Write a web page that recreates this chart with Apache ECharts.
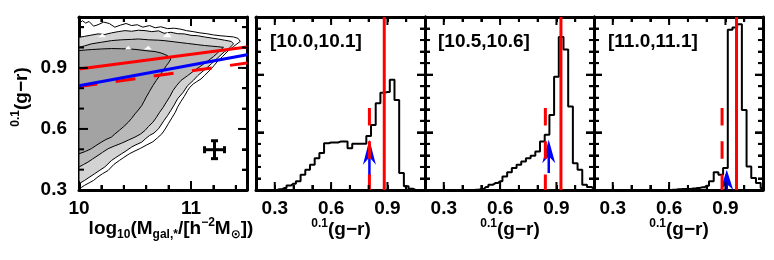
<!DOCTYPE html>
<html>
<head>
<meta charset="utf-8">
<script src="https://cdn.jsdelivr.net/npm/echarts@6.0.0/dist/echarts.min.js"></script>
<style>
html,body{margin:0;padding:0;background:#ffffff;}
#chart{width:774px;height:260px;}
</style>
</head>
<body>
<div id="chart"></div>
<script>
// ================= DATA: left panel (colour vs stellar mass) =================
const massTickValues = [10, 11];
const massMinorTicks = [10.2, 10.4, 10.6, 10.8, 11.2, 11.4];
const colourTickValues = [0.3, 0.6, 0.9];
const colourMinorTicks = [0.4, 0.5, 0.7, 0.8, 1.0, 1.1];

const outerContourX = [10.00,10.03,10.06,10.09,10.13,10.17,10.22,10.27,10.32,10.37,10.42,10.47,10.52,10.57,10.63,10.68,10.73,10.79,10.85,10.91,10.96,11.02,11.08,11.14,11.20,11.26,11.32,11.38,11.42,11.44,11.42,11.38,11.33,11.28,11.24,11.18,11.12,11.09,11.05,11.02,10.99,10.97,10.94,10.91,10.88,10.86,10.83,10.80,10.77,10.74,10.70,10.66,10.60,10.55,10.50,10.45,10.40,10.36,10.31,10.26,10.21,10.17,10.13,10.09,10.05,10.02,10.00];
const outerContourY = [1.116,1.132,1.120,1.128,1.105,1.112,1.125,1.118,1.100,1.110,1.118,1.108,1.112,1.100,1.108,1.097,1.102,1.093,1.095,1.090,1.083,1.078,1.072,1.068,1.062,1.058,1.055,1.052,1.045,1.030,1.022,1.005,0.983,0.955,0.934,0.895,0.862,0.846,0.832,0.821,0.805,0.789,0.760,0.735,0.707,0.682,0.655,0.628,0.600,0.576,0.556,0.537,0.520,0.505,0.492,0.478,0.460,0.445,0.425,0.396,0.380,0.365,0.347,0.335,0.323,0.312,0.305];

const lightRegionX = [10.00,10.05,10.10,10.17,10.23,10.29,10.35,10.41,10.47,10.53,10.59,10.65,10.71,10.76,10.82,10.88,10.94,11.00,11.06,11.12,11.18,11.24,11.30,11.36,11.38,11.33,11.30,11.24,11.18,11.12,11.06,11.02,10.97,10.93,10.88,10.85,10.82,10.79,10.76,10.71,10.67,10.63,10.59,10.56,10.50,10.47,10.42,10.38,10.33,10.29,10.23,10.18,10.14,10.09,10.05,10.00];
const lightRegionY = [1.050,1.055,1.060,1.067,1.064,1.072,1.078,1.083,1.080,1.085,1.083,1.078,1.082,1.070,1.075,1.068,1.067,1.060,1.058,1.052,1.047,1.042,1.036,1.030,1.018,0.990,0.980,0.950,0.919,0.890,0.862,0.838,0.813,0.780,0.748,0.718,0.691,0.665,0.642,0.601,0.580,0.568,0.550,0.535,0.520,0.511,0.492,0.478,0.460,0.445,0.413,0.395,0.380,0.362,0.347,0.331];

const midRegionX = [10.00,10.05,10.11,10.20,10.29,10.38,10.47,10.53,10.62,10.71,10.76,10.85,10.91,10.97,11.06,11.12,11.18,11.24,11.29,11.26,11.24,11.20,11.15,11.09,11.03,10.97,10.91,10.87,10.84,10.81,10.78,10.75,10.72,10.69,10.66,10.62,10.59,10.55,10.50,10.44,10.38,10.32,10.26,10.21,10.17,10.12,10.08,10.04,10.00];
const midRegionY = [1.001,1.008,1.018,1.026,1.034,1.038,1.040,1.042,1.038,1.036,1.034,1.028,1.024,1.020,1.014,1.010,1.007,1.004,1.001,0.985,0.975,0.955,0.934,0.910,0.887,0.862,0.838,0.812,0.789,0.758,0.732,0.705,0.682,0.656,0.633,0.612,0.593,0.575,0.560,0.545,0.530,0.517,0.503,0.485,0.470,0.452,0.437,0.425,0.413];

const darkRegionX = [10.00,10.06,10.11,10.20,10.29,10.38,10.44,10.50,10.59,10.68,10.74,10.79,10.82,10.80,10.78,10.75,10.72,10.69,10.66,10.63,10.60,10.58,10.56,10.53,10.50,10.47,10.44,10.40,10.36,10.32,10.29,10.24,10.20,10.15,10.11,10.06,10.00];
const darkRegionY = [0.985,0.988,0.990,0.993,0.995,0.994,0.993,0.991,0.985,0.980,0.972,0.960,0.944,0.925,0.911,0.885,0.862,0.838,0.813,0.785,0.756,0.735,0.715,0.693,0.674,0.652,0.633,0.612,0.593,0.575,0.560,0.548,0.535,0.518,0.503,0.490,0.478];

const notchX = [[10.75,10.83,10.79],[10.17,10.24,10.21],[10.41,10.47,10.44],[10.58,10.65,10.62]];
const notchY = [[1.050,1.050,1.075],[1.050,1.050,1.070],[0.990,0.990,1.009],[0.990,0.990,1.009]];

const redFitX = [10.0, 11.5];
const redFitY = [0.894, 1.003];
const blueFitX = [10.0, 11.5];
const blueFitY = [0.812, 0.965];
const redDashFitX = [10.0, 11.5];
const redDashFitY = [0.808, 0.924];

const errCentreX = [11.21];
const errCentreY = [0.498];
const errHalfX = [0.089];
const errHalfY = [0.044];

// ================= DATA: colour histograms =================
const binCentres = [0.200,0.225,0.250,0.275,0.300,0.325,0.350,0.375,0.400,0.425,0.450,0.475,0.500,0.525,0.550,0.575,0.600,0.625,0.650,0.675,0.700,0.725,0.750,0.775,0.800,0.825,0.850,0.875,0.900,0.925,0.950,0.975,1.000,1.025,1.050,1.075,1.100];
const histA = [0,0,0,0,0, 0.06,0.17,0.40,0.55,0.75, 1.32,1.76,2.19,2.76,3.20, 4.06,4.12,4.12,4.20,4.20, 3.63,4.00,4.00,4.00,4.69, 5.64,7.52,8.44,8.50,9.55, 7.80,1.47,0.32,0.10,0, 0,0];
const histB = [0,0,0,0,0, 0,0,0,0,0, 0,0.03,0.09,0.26,0.46, 0.60,0.75,1.18,1.53,1.90, 2.19,2.48,2.76,2.97,3.34, 4.20,4.78,6.50,9.82,13.27, 12.18,7.23,2.33,1.76,0.46, 0.26,0.10];
const histC = [0,0,0,0,0, 0,0,0,0,0, 0,0,0,0,0, 0,0,0.03,0.06,0.09, 0.09,0.12,0.17,0.23,0.37, 0.75,1.53,1.32,1.90,13.90, 14.10,14.37,6.94,2.04,1.04, 0.60,0.17];
const histograms = [histA, histB, histC];
const massBinLabels = ['[10.0,10.1]', '[10.5,10.6]', '[11.0,11.1]'];

const histTickValues = [0.3, 0.6, 0.9];
const histMinorTicks = [0.2, 0.4, 0.5, 0.7, 0.8, 1.0, 1.1];
const countMajorTicks = [5, 10];
const countMinorTicks = [1, 2, 3, 4, 6, 7, 8, 9, 11, 12, 13, 14];

const redSolidX = [0.883, 0.924, 0.959];
const redDashX = [0.804, 0.841, 0.882];
const redDashTop = [7.1, 7.1, 7.1];
const arrowX = [0.804, 0.859, 0.907];
const arrowTip = [4.35, 4.35, 1.76];
const arrowBase = [2.19, 2.33, 0.0];
const arrowTail = [1.18, 1.47, 0.0];

// ================= CHART =================
const FONT = "'Liberation Sans', Arial, 'DejaVu Sans', sans-serif";
const chart = echarts.init(document.getElementById('chart'));

const grids = [
  {left: 79, top: 17, width: 168, height: 173},
  {left: 256, top: 17, width: 169, height: 173},
  {left: 425, top: 17, width: 169, height: 173},
  {left: 594, top: 17, width: 169, height: 173}
];

// axis ranges and tick intervals (min is always a multiple of interval)
const axisSpecs = [
  {x: {min: 10, max: 11.5, interval: 0.2, len: 5, minor: 0},
   y: {min: 0.3, max: 1.15, interval: 0.1, len: 5, minor: 0}},
  {x: {min: 0.2, max: 1.1, interval: 0.1, len: 5, minor: 0},
   y: {min: 0, max: 15, interval: 5, len: 8, minor: 5}},
  {x: {min: 0.2, max: 1.1, interval: 0.1, len: 5, minor: 0},
   y: {min: 0, max: 15, interval: 5, len: 8, minor: 5}},
  {x: {min: 0.2, max: 1.1, interval: 0.1, len: 5, minor: 0},
   y: {min: 0, max: 15, interval: 5, len: 8, minor: 5}}
];

const xAxes = [], yAxes = [];
function addAxis(list, gi, pos, spec, labelVals, fmt, margin) {
  list.push({
    type: 'value', gridIndex: gi, position: pos, min: spec.min, max: spec.max, interval: spec.interval,
    axisLine: {show: true, onZero: false, lineStyle: {color: '#000', width: 3}},
    axisTick: {show: true, inside: true, length: spec.len, lineStyle: {color: '#000', width: 2}},
    minorTick: spec.minor ? {show: true, splitNumber: spec.minor, length: 5, lineStyle: {color: '#000', width: 2}} : {show: false},
    axisLabel: labelVals ? {show: true, customValues: labelVals, formatter: fmt, margin: margin,
      color: '#000', fontFamily: FONT, fontWeight: 'bold', fontSize: 19} : {show: false},
    splitLine: {show: false}
  });
  return list.length - 1;
}

const mainX = [], mainY = [];
mainX.push(addAxis(xAxes, 0, 'bottom', axisSpecs[0].x, massTickValues, v => v.toFixed(0), 9));
addAxis(xAxes, 0, 'top', axisSpecs[0].x);
mainY.push(addAxis(yAxes, 0, 'left', axisSpecs[0].y, colourTickValues, v => v.toFixed(1), 12));
addAxis(yAxes, 0, 'right', axisSpecs[0].y);
for (let g = 1; g <= 3; g++) {
  mainX.push(addAxis(xAxes, g, 'bottom', axisSpecs[g].x, histTickValues, v => v.toFixed(1), 9));
  addAxis(xAxes, g, 'top', axisSpecs[g].x);
  mainY.push(addAxis(yAxes, g, 'left', axisSpecs[g].y));
  addAxis(yAxes, g, 'right', axisSpecs[g].y);
}

function pairs(xs, ys) { return xs.map((x, i) => [x, ys[i]]); }

function polygonSeries(xs, ys, fill, stroke) {
  const data = pairs(xs, ys);
  return {
    type: 'custom', xAxisIndex: mainX[0], yAxisIndex: mainY[0], data: data, silent: true,
    renderItem: function (params, api) {
      if (params.dataIndex !== 0) return null;
      return {type: 'polygon', shape: {points: data.map(d => api.coord(d))},
        style: {fill: fill, stroke: stroke, lineWidth: 1}};
    }
  };
}

function lineSeries(xs, ys, color, width, type, gi, extra) {
  return Object.assign({
    type: 'line', xAxisIndex: mainX[gi], yAxisIndex: mainY[gi], data: pairs(xs, ys),
    showSymbol: false, symbol: 'none', silent: true, clip: true,
    lineStyle: {color: color, width: width, type: type || 'solid'}
  }, extra || {});
}

const series = [];
// left panel
series.push(polygonSeries(lightRegionX, lightRegionY, '#d3d3d3', '#000'));
series.push(polygonSeries(midRegionX, midRegionY, '#b9b9b9', '#000'));
series.push(polygonSeries(darkRegionX, darkRegionY, '#a3a3a3', '#000'));
notchX.forEach((nx, i) => series.push(polygonSeries(nx, notchY[i], '#ffffff', null)));
series.push(lineSeries(outerContourX, outerContourY, '#000', 1, 'solid', 0));
series.push(lineSeries(redFitX, redFitY, '#ff0000', 3, 'solid', 0));
const dashFit = lineSeries(redDashFitX, redDashFitY, '#ff0000', 3, [20, 18.5], 0);
dashFit.lineStyle.dashOffset = 1.5;
series.push(dashFit);
series.push(lineSeries(blueFitX, blueFitY, '#0000ff', 3, 'solid', 0));
series.push({
  type: 'custom', xAxisIndex: mainX[0], yAxisIndex: mainY[0], silent: true,
  data: errCentreX.map((x, i) => [x, errCentreY[i], errHalfX[i], errHalfY[i]]),
  renderItem: function (params, api) {
    const x = api.value(0), y = api.value(1), dx = api.value(2), dy = api.value(3);
    const l = api.coord([x - dx, y]), r = api.coord([x + dx, y]);
    const t = api.coord([x, y + dy]), b = api.coord([x, y - dy]);
    const cap = 3.5, st = {stroke: '#000', lineWidth: 3};
    const L = (x1, y1, x2, y2) => ({type: 'line', shape: {x1, y1, x2, y2}, style: st});
    return {type: 'group', children: [
      L(l[0], l[1], r[0], r[1]), L(t[0], t[1], b[0], b[1]),
      L(l[0], l[1] - cap, l[0], l[1] + cap), L(r[0], r[1] - cap, r[0], r[1] + cap),
      L(t[0] - cap, t[1], t[0] + cap, t[1]), L(b[0] - cap, b[1], b[0] + cap, b[1])
    ]};
  }
});

// histogram panels
for (let k = 0; k < 3; k++) {
  const g = k + 1;
  series.push(lineSeries(binCentres, histograms[k], '#000', 2, 'solid', g, {step: 'middle'}));
  series.push(lineSeries([redSolidX[k], redSolidX[k]], [0, 15], '#ff0000', 3, 'solid', g));
  const dashS = lineSeries([redDashX[k], redDashX[k]], [0, redDashTop[k]], '#ff0000', 3, [17.5, 15.7], g);
  dashS.lineStyle.dashOffset = 2;
  series.push(dashS);
  series.push({
    type: 'custom', xAxisIndex: mainX[g], yAxisIndex: mainY[g], silent: true,
    data: [[arrowX[k], arrowTip[k], arrowBase[k], arrowTail[k]]],
    renderItem: function (params, api) {
      const x = api.value(0);
      const pTip = api.coord([x, api.value(1)]);
      const pBase = api.coord([x, api.value(2)]);
      const pTail = api.coord([x, api.value(3)]);
      const hw = 6.5;
      const notchY = pBase[1] - 0.3 * (pBase[1] - pTip[1]);
      const children = [];
      if (pTail[1] > notchY) {
        children.push({type: 'line', shape: {x1: pTail[0], y1: pTail[1], x2: pTail[0], y2: notchY},
          style: {stroke: '#0000ff', lineWidth: 2.5}});
      }
      children.push({type: 'polygon', shape: {points: [pTip, [pTip[0] + hw, pBase[1]], [pTip[0], notchY], [pTip[0] - hw, pBase[1]]]},
        style: {fill: '#0000ff'}});
      return {type: 'group', children: children};
    }
  });
}

chart.setOption({
  animation: false,
  grid: grids,
  xAxis: xAxes,
  yAxis: yAxes,
  series: series
});

// ---------- texts and inward tick marks (tick positions via the axes' own scales) ----------
const rich = {
  m: {fontFamily: FONT, fontWeight: 'bold', fontSize: 19, lineHeight: 24, verticalAlign: 'middle', color: '#000'},
  p: {fontFamily: FONT, fontWeight: 'bold', fontSize: 12, lineHeight: 12, verticalAlign: 'top', color: '#000'},
  s: {fontFamily: FONT, fontWeight: 'bold', fontSize: 12, lineHeight: 12, verticalAlign: 'bottom', color: '#000'}
};
const graphic = [
  {type: 'text', x: 22, y: 97, rotation: Math.PI / 2, silent: true,
    style: {text: '{p|0.1}{m|(g−r)}', rich: rich, align: 'center', verticalAlign: 'middle'}},
  {type: 'text', x: 171, y: 229, silent: true,
    style: {text: '{m|log}{s|10}{m|(M}{s|gal,*}{m|/[h}{p|−2}{m|M}{s|⊙}{m|])}', rich: rich, align: 'center', verticalAlign: 'middle'}}
];
const titleCentres = [341, 510, 679];
const labelLefts = [270, 438, 608];
for (let k = 0; k < 3; k++) {
  graphic.push({type: 'text', x: titleCentres[k], y: 230, silent: true,
    style: {text: '{p|0.1}{m|(g−r)}', rich: rich, align: 'center', verticalAlign: 'middle'}});
  graphic.push({type: 'text', x: labelLefts[k], y: 42, silent: true,
    style: {text: massBinLabels[k], fontFamily: FONT, fontWeight: 'bold', fontSize: 19, fill: '#000',
      align: 'left', verticalAlign: 'middle'}});
}

const tickSets = [
  {xMaj: massTickValues, xMin: massMinorTicks, yMaj: colourTickValues, yMin: colourMinorTicks, maj: 9, min: 5},
  {xMaj: histTickValues, xMin: histMinorTicks, yMaj: countMajorTicks, yMin: countMinorTicks, maj: 8, min: 5},
  {xMaj: histTickValues, xMin: histMinorTicks, yMaj: countMajorTicks, yMin: countMinorTicks, maj: 8, min: 5},
  {xMaj: histTickValues, xMin: histMinorTicks, yMaj: countMajorTicks, yMin: countMinorTicks, maj: 8, min: 5}
];
const tickStyle = {stroke: '#000', lineWidth: 2};
function tickLine(x1, y1, x2, y2) {
  return {type: 'line', silent: true, z: 50, shape: {x1: x1, y1: y1, x2: x2, y2: y2}, style: tickStyle};
}
tickSets.forEach((ts, g) => {
  const finder = {xAxisIndex: mainX[g], yAxisIndex: mainY[g]};
  const sx = axisSpecs[g].x, sy = axisSpecs[g].y;
  const addX = (v, len) => {
    const b = chart.convertToPixel(finder, [v, sy.min]);
    const t = chart.convertToPixel(finder, [v, sy.max]);
    if (!b || !t) return;
    graphic.push(tickLine(b[0], b[1], b[0], b[1] - len));
    graphic.push(tickLine(t[0], t[1], t[0], t[1] + len));
  };
  const addY = (v, len) => {
    const l = chart.convertToPixel(finder, [sx.min, v]);
    const r = chart.convertToPixel(finder, [sx.max, v]);
    if (!l || !r) return;
    graphic.push(tickLine(l[0], l[1], l[0] + len, l[1]));
    graphic.push(tickLine(r[0], r[1], r[0] - len, r[1]));
  };
  ts.xMaj.forEach(v => addX(v, ts.maj));
  ts.xMin.forEach(v => addX(v, ts.min));
  ts.yMaj.forEach(v => addY(v, ts.maj));
  ts.yMin.forEach(v => addY(v, ts.min));
});

chart.setOption({graphic: graphic});
</script>
</body>
</html>
